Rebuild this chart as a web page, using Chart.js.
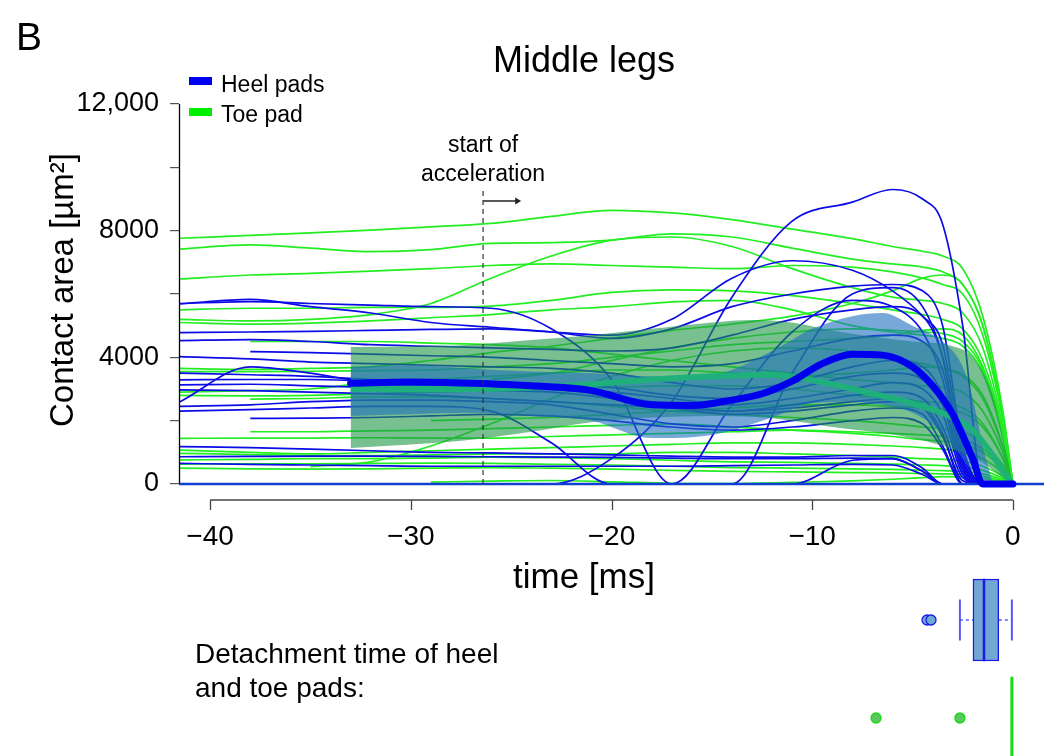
<!DOCTYPE html>
<html><head><meta charset="utf-8">
<script src="https://cdn.jsdelivr.net/npm/chart.js@4.4.1/dist/chart.umd.min.js"></script>
<style>html,body{margin:0;padding:0;background:#fff;}canvas{display:block;}</style>
</head><body>
<canvas id="c" width="1054" height="756"></canvas>
<script>
const FONT = "'Liberation Sans', Arial, Helvetica, sans-serif";

// ---------- data ----------
const panelLetter = 'B';
const chartTitle = 'Middle legs';
const legendLabels = ['Heel pads', 'Toe pad'];
const xTickValues = [-40, -30, -20, -10, 0];
const xTickLabels = ['\u221240', '\u221230', '\u221220', '\u221210', '0'];
const yTickMarks = [0, 2000, 4000, 6000, 8000, 10000, 12000];
const yTickValues = [0, 4000, 8000, 12000];
const yTickLabels = ['0', '4000', '8000', '12,000'];
const xAxisTitle = 'time [ms]';
const yAxisTitle = 'Contact area [\u00b5m\u00b2]';
const accelTime = -26.4;
const accelLabel = ['start of', 'acceleration'];
const detachLabel = ['Detachment time of heel', 'and toe pads:'];

// individual traces (ms, µm²)
const traceTimes = [-41.5, -38, -35, -32, -29, -26, -23, -20, -17, -14, -11, -8, -6, -4.5, -3.5, -2.5, -1.5, -0.5, 0];
const toeTraces = [
  [7760, 7850, 7930, 8020, 8120, 8230, 8450, 8640, 8560, 8350, 8050, 7750, 7500, 7350, 7200, 6800, 5300, 2300, 0],
  [7420, 7550, 7450, 7340, 7400, 7600, 7620, 7700, 7900, 7800, 7450, 7100, 6950, 6850, 6700, 6300, 5000, 2100, 0],
  [6475, 6600, 6650, 6720, 6800, 6900, 6950, 6900, 6850, 6800, 6900, 6850, 6700, 6500, 6300, 6000, 4700, 2000, 0],
  [5500, 5550, 5550, 5580, 5580, 5620, 5800, 6050, 6130, 6100, 5950, 5700, 5500, 5350, 5200, 4900, 3900, 1700, 0],
  [5200, 5150, 5200, 5350, 5700, 6500, 7200, 7700, 7800, 7500, 6800, 6200, 5900, 5800, 5700, 5400, 4300, 1800, 0],
  [5100, 5050, 5080, 5150, 5250, 5350, 5500, 5600, 5750, 5800, 5500, 5000, 4800, 4700, 4600, 4350, 3500, 1500, 0],
  [3650, 3620, 3650, 3700, 3900, 4150, 4350, 4600, 4850, 5050, 5300, 5700, 6100, 6500, 6600, 6300, 5000, 2100, 0],
  [3550, 3550, 3560, 3580, 3600, 3700, 3800, 4000, 4200, 4400, 4500, 4600, 4700, 4850, 4900, 4700, 3700, 1600, 0],
  [2900, 2950, 3000, 3200, 3300, 3400, 3500, 3600, 3600, 3500, 3400, 3500, 3600, 3700, 3650, 3450, 2800, 1200, 0],
  [2800, 2780, 2800, 2850, 2900, 2950, 3000, 3050, 3100, 3100, 3000, 2800, 2700, 2600, 2550, 2400, 1900, 800, 0],
  [null, 2680, 2700, 2750, 2750, 2700, 2600, 2450, 2300, 2200, 2100, 2000, 1900, 1800, 1750, 1650, 1300, 600, 0],
  [null, 1650, 1650, 1680, 1700, 1750, 1800, 1850, 1900, 1800, 1700, 1600, 1500, 1400, 1350, 1250, 1000, 450, 0],
  [1440, 1450, 1450, 1460, 1450, 1450, 1500, 1550, 1600, 1650, 1700, 1650, 1600, 1550, 1500, 1400, 1100, 500, 0],
  [1070, 1000, 950, 1000, 1050, 1100, 1150, 1200, 1250, 1300, 1300, 1250, 1200, 1150, 1100, 1000, 800, 350, 0],
  [970, 930, 900, 900, 920, 950, 950, 950, 1000, 1000, 950, 900, 850, 800, 780, 720, 560, 250, 0],
  [760, 780, 800, 800, 820, 850, 830, 800, 750, 700, 680, 650, 630, 600, 580, 540, 430, 180, 0],
  [630, 640, 640, 650, 660, 650, 620, 600, 560, 520, 500, 480, 460, 440, 420, 400, 320, 140, 0],
  [500, 480, 470, 480, 500, 520, 500, 470, 430, 400, 380, 360, 350, 330, 320, 300, 240, 100, 0],
  [null, null, 550, 700, 1200, 1900, 2700, 3400, 3900, 4200, 4300, 4200, 4000, 3800, 3650, 3400, 2700, 1150, 0],
  [null, null, null, null, 60, 90, 110, 70, 20, 10, 50, 100, 150, 200, 230, 220, 170, 70, 0],
  [null, null, null, null, 2000, 2050, 2100, 2200, 2300, 2400, 2500, 2500, 2450, 2400, 2350, 2250, 1800, 800, 0],
  [null, 4500, 4500, 4500, 4450, 4400, 4300, 4100, 3900, 3700, 3500, 3300, 3200, 3100, 3050, 2900, 2300, 1000, 0],
  [null, null, null, null, null, 3300, 3500, 3900, 4300, 4600, 4800, 4900, 4850, 4800, 4750, 4500, 3600, 1500, 0]
];
const heelTraces = [
  [5700, 5760, 5700, 5650, 5600, 5550, 4900, 3300, 0, 0, 0, 0, 0, 0, 0, 0, 0, 0, 0],
  [5690, 5830, 5600, 5400, 5100, 4950, 4800, 4600, 4900, 5600, 6000, 6250, 6300, 6100, 5000, 1200, 0, 0, 0],
  [4780, 4800, 4820, 4850, 4880, 4900, 4800, 4700, 5200, 6500, 7050, 6750, 6100, 5300, 4400, 1000, 0, 0, 0],
  [4530, 4560, 4500, 4400, 4350, 4300, 4250, 4200, 4300, 4700, 5200, 5500, 5600, 5300, 4000, 700, 0, 0, 0],
  [null, 4180, 4150, 4100, 4050, 4000, 3900, 3800, 3700, 3800, 4200, 4600, 4700, 4500, 3600, 800, 0, 0, 0],
  [4020, 3950, 3850, 3800, 3750, 3700, 3650, 3500, 3200, 3000, 3200, 3700, 3900, 3700, 2800, 500, 0, 0, 0],
  [2600, 3700, 3500, 3200, 3100, 3050, 3000, 2900, 2700, 2500, 2700, 3000, 3200, 3000, 2200, 300, 0, 0, 0],
  [3500, 3450, 3400, 3300, 3250, 3200, 3150, 3050, 2800, 2700, 3000, 3400, 3500, 3300, 2500, 400, 0, 0, 0],
  [3290, 3300, 3300, 3250, 3200, 3100, 3000, 2800, 2500, 2300, 2500, 2800, 2900, 2700, 1800, 200, 0, 0, 0],
  [3130, 3150, 3100, 3050, 3000, 2950, 2900, 2700, 2400, 2200, 2300, 2500, 2600, 2400, 1500, 100, 0, 0, 0],
  [2970, 2950, 2900, 2850, 2800, 2700, 2600, 2500, 2400, 2300, 2400, 2600, 2700, 2500, 1600, 0, 0, 0, 0],
  [2450, 2500, 2600, 2650, 2650, 2600, 2500, 2200, 1900, 1800, 2000, 2300, 2400, 2200, 1200, 0, 0, 0, 0],
  [2300, 2350, 2400, 2450, 2450, 2300, 1300, 0, 0, 0, 0, 0, 0, 0, 0, 0, 0, 0, 0],
  [null, 2070, 2080, 2100, 2150, 2200, 2150, 2000, 1800, 1700, 1800, 2000, 2100, 1900, 1100, 0, 0, 0, 0],
  [1180, 1150, 1100, 1050, 1000, 980, 950, 920, 880, 850, 850, 900, 900, 500, 0, 0, 0, 0, 0],
  [860, 870, 880, 880, 870, 860, 850, 840, 820, 800, 800, 820, 800, 400, 0, 0, 0, 0, 0],
  [650, 620, 600, 580, 560, 560, 560, 560, 560, 580, 600, 620, 600, 300, 0, 0, 0, 0, 0],
  [0, 0, 0, 0, 0, 0, 0, 800, 2600, 5900, 8300, 8900, 9300, 9000, 8200, 5000, 0, 0, 0],
  [0, 0, 0, 0, 0, 0, 0, 0, 0, 0, 3500, 6000, 6200, 5600, 4000, 800, 0, 0, 0],
  [0, 0, 0, 0, 0, 0, 0, 0, 0, 2500, 4800, 5800, 5600, 4800, 3300, 600, 0, 0, 0],
  [0, 0, 0, 0, 0, 0, 0, 0, 0, 0, 0, 750, 800, 400, 0, 0, 0, 0, 0]
];

// toe pad mean and SD band
const toeBandTimes = [-33, -30, -27, -24, -21, -18, -15, -13, -11, -9, -7, -5, -3, -2, -1, -0.5, 0];
const toeBandUpper = [4330, 4350, 4400, 4550, 4700, 4900, 5100, 5180, 5100, 4850, 4650, 4500, 4350, 4000, 2800, 1500, 0];
const toeBandLower = [1140, 1250, 1400, 1650, 1950, 2100, 2150, 2120, 2000, 1800, 1650, 1450, 1100, 850, 450, 200, 0];
const toeMeanTimes = [-33, -30, -27, -24, -21, -18, -15, -12, -9, -7, -5, -4, -3, -2, -1, -0.5, 0];
const toeMean = [3000, 3000, 3000, 3050, 3150, 3300, 3400, 3450, 3150, 2850, 2550, 2350, 2100, 1700, 900, 400, 0];

// heel pads mean and SD band
const heelBandTimes = [-33, -30, -27, -24, -21, -18, -15, -12, -10, -8, -6.5, -5, -3.5, -2.5, -2, -1.5, -1];
const heelBandUpper = [3700, 3750, 3650, 3550, 3500, 3400, 3450, 4200, 4900, 5300, 5400, 5000, 4500, 3700, 2700, 1200, 0];
const heelBandLower = [2150, 2200, 2250, 2150, 2000, 1450, 1550, 2100, 2550, 2600, 2500, 2250, 1600, 800, 400, 100, 0];
const heelMeanTimes = [-33, -30, -27, -24, -21, -18, -16, -14, -12.5, -11, -9.5, -8, -6.5, -5, -4, -3, -2, -1.5, -1, -0.5, 0];
const heelMean = [3180, 3220, 3180, 3100, 2950, 2500, 2480, 2650, 2850, 3250, 3800, 4100, 4070, 3700, 3100, 2200, 800, 0, 0, 0, 0];

// detachment times (ms): whisker low, Q1, median, Q3, whisker high
const heelBox = [-2.64, -1.99, -1.44, -0.70, -0.05];
const heelOutliers = [-4.28, -4.08];
const toeBox = [-0.05, -0.05, -0.05, -0.05, -0.05];
const toeOutliers = [-6.82, -2.64];

// ---------- layout / styles ----------
const X_MIN = -41.55, X_MAX = 1.55;
const Y_MIN = -8589.5, Y_MAX = 12000;          // area below 0 holds the x axis and the box plots
const YB_MIN = -4.2653, YB_MAX = 2.388;        // hidden row scale for the box plots
const BLUE = '#0c0ce6', GREEN = '#22ee22';
const HEEL_ROW = 1, TOE_ROW = 2, BOX_HALF = 0.42, CAP_HALF = 0.21;
const ACC_TOP = 9285, ARROW_Y = 8937, ARROW_LEN = 1.7;

const pts = (times, vals) => times.map((t, i) => vals[i] == null ? null : {x: t, y: vals[i]}).filter(p => p);
const datasets = [];

toeTraces.forEach(v => datasets.push({data: pts(traceTimes, v), borderColor: GREEN, borderWidth: 1.7, order: 11}));
heelTraces.forEach(v => datasets.push({data: pts(traceTimes, v), borderColor: BLUE, borderWidth: 1.7, order: 10}));
datasets.push({data: [{x: X_MIN, y: 0}, {x: X_MAX, y: 0}], borderColor: '#1040d0', borderWidth: 2.5, order: 9, cubicInterpolationMode: 'default'});

// bands
let idx = datasets.length;
datasets.push({data: pts(toeBandTimes, toeBandLower), borderWidth: 0, borderColor: 'rgba(0,0,0,0)', order: 8});
datasets.push({data: pts(toeBandTimes, toeBandUpper), borderWidth: 0, borderColor: 'rgba(0,0,0,0)', fill: {target: idx}, backgroundColor: 'rgba(30,150,70,0.6)', order: 7});
idx = datasets.length;
datasets.push({data: pts(heelBandTimes, heelBandLower), borderWidth: 0, borderColor: 'rgba(0,0,0,0)', order: 6});
datasets.push({data: pts(heelBandTimes, heelBandUpper), borderWidth: 0, borderColor: 'rgba(0,0,0,0)', fill: {target: idx}, backgroundColor: 'rgba(30,110,190,0.6)', order: 5});

// means
datasets.push({data: pts(toeMeanTimes, toeMean), borderColor: 'rgba(30,178,120,0.95)', borderWidth: 6, order: 4});
datasets.push({data: pts(heelMeanTimes, heelMean), borderColor: '#0000ee', borderWidth: 7, order: 3, borderCapStyle: 'round'});

// start of acceleration marker
datasets.push({data: [{x: accelTime, y: 0}, {x: accelTime, y: ACC_TOP}], borderColor: '#333', borderWidth: 1.2, borderDash: [5, 4], order: 2, cubicInterpolationMode: 'default'});
datasets.push({data: [{x: accelTime, y: ARROW_Y}, {x: accelTime + ARROW_LEN, y: ARROW_Y}], borderColor: '#222', borderWidth: 1.3, order: 2, cubicInterpolationMode: 'default',
  pointRadius: [0, 4], pointStyle: 'triangle', rotation: 90, pointBackgroundColor: '#222', pointBorderColor: '#222', pointBorderWidth: 0});

// box plots (horizontal, on the time axis): one bar dataset for both boxes
const boxStats = [heelBox, toeBox];
const boxRows = [HEEL_ROW, TOE_ROW];
datasets.push({type: 'bar', indexAxis: 'y', xAxisID: 'x', yAxisID: 'yb',
  data: boxStats.map((s, i) => ({x: [s[1], s[3]], y: boxRows[i]})),
  barThickness: 82, backgroundColor: ['#72a8d4', '#5ec65e'], borderColor: ['#1a1ae8', '#11dd11'], borderWidth: 1.5, borderSkipped: false, order: 1});

function addBoxParts(stats, outl, row, col, fill, edge, medW) {
  datasets.push({yAxisID: 'yb', data: [{x: stats[2], y: row - BOX_HALF}, {x: stats[2], y: row + BOX_HALF}], borderColor: edge, borderWidth: medW, order: 0, cubicInterpolationMode: 'default'});
  if (stats[0] < stats[1]) {
    datasets.push({yAxisID: 'yb', data: [{x: stats[0], y: row}, {x: stats[1], y: row}], borderColor: col, borderWidth: 1.5, borderDash: [3, 3], order: 1, cubicInterpolationMode: 'default'});
    datasets.push({yAxisID: 'yb', data: [{x: stats[3], y: row}, {x: stats[4], y: row}], borderColor: col, borderWidth: 1.5, borderDash: [3, 3], order: 1, cubicInterpolationMode: 'default'});
    datasets.push({yAxisID: 'yb', data: [{x: stats[0], y: row - CAP_HALF}, {x: stats[0], y: row + CAP_HALF}], borderColor: col, borderWidth: 2, order: 1, cubicInterpolationMode: 'default'});
    datasets.push({yAxisID: 'yb', data: [{x: stats[4], y: row - CAP_HALF}, {x: stats[4], y: row + CAP_HALF}], borderColor: col, borderWidth: 2, order: 1, cubicInterpolationMode: 'default'});
  }
  datasets.push({yAxisID: 'yb', data: outl.map(v => ({x: v, y: row})), showLine: false, pointRadius: 5, pointBackgroundColor: fill, pointBorderColor: edge, pointBorderWidth: 1.3, order: 0});
}
addBoxParts(heelBox, heelOutliers, HEEL_ROW, '#5a5af2', '#72a8d4', '#1a1ae8', 2.5);
addBoxParts(toeBox, toeOutliers, TOE_ROW, '#22dd22', '#5ec65e', '#11dd11', 3);

datasets.forEach(d => {
  if (d.type !== 'bar') {
    d.type = 'line';
    d.fill = d.fill || false;
    if (d.pointRadius === undefined) d.pointRadius = 0;
    if (!d.cubicInterpolationMode) d.cubicInterpolationMode = 'monotone';
  }
  d.clip = false;
});

const decor = {
  id: 'decor',
  beforeDraw(chart) {
    const c = chart.ctx; c.save(); c.fillStyle = '#fff'; c.fillRect(0, 0, chart.width, chart.height); c.restore();
  },
  afterDraw(chart) {
    const c = chart.ctx, xs = chart.scales.x, ys = chart.scales.y, a = chart.chartArea;
    c.save();
    // y axis line (0 .. 12,000 only)
    c.strokeStyle = '#000'; c.lineWidth = 1.3;
    c.beginPath();
    c.moveTo(a.left + 0.5, ys.getPixelForValue(yTickMarks[0]));
    c.lineTo(a.left + 0.5, ys.getPixelForValue(yTickMarks[yTickMarks.length - 1]));
    c.stroke();
    // x axis (offset below the data)
    const axY = ys.getPixelForValue(0) + 16;
    c.strokeStyle = '#444'; c.lineWidth = 1.3;
    c.beginPath();
    c.moveTo(xs.getPixelForValue(xTickValues[0]), axY);
    c.lineTo(xs.getPixelForValue(xTickValues[xTickValues.length - 1]), axY);
    c.stroke();
    xTickValues.forEach(v => {
      const px = Math.round(xs.getPixelForValue(v)) + 0.5;
      c.beginPath(); c.moveTo(px, axY); c.lineTo(px, axY + 10); c.stroke();
    });
    c.fillStyle = '#000';
    c.textAlign = 'center'; c.textBaseline = 'alphabetic';
    c.font = `28px ${FONT}`;
    xTickValues.forEach((v, i) => c.fillText(xTickLabels[i], xs.getPixelForValue(v), axY + 45));
    c.font = `35px ${FONT}`;
    c.fillText(xAxisTitle, 584, 588);
    // y title
    c.save(); c.translate(73, 290); c.rotate(-Math.PI / 2);
    c.font = `33px ${FONT}`; c.fillText(yAxisTitle, 0, 0); c.restore();
    // title + panel letter
    c.font = `36px ${FONT}`; c.fillText(chartTitle, 584, 72);
    c.textAlign = 'left'; c.font = `39px ${FONT}`; c.fillText(panelLetter, 16, 50);
    // legend
    c.fillStyle = '#0000ee'; c.fillRect(189, 77, 23, 8);
    c.fillStyle = '#00ee00'; c.fillRect(189, 108, 23, 8);
    c.fillStyle = '#000'; c.font = `23px ${FONT}`;
    c.fillText(legendLabels[0], 221, 92);
    c.fillText(legendLabels[1], 221, 122);
    // start of acceleration
    c.textAlign = 'center';
    const ax = xs.getPixelForValue(accelTime);
    c.fillText(accelLabel[0], ax, 152);
    c.fillText(accelLabel[1], ax, 181);
    // detachment label
    c.textAlign = 'left'; c.font = `28px ${FONT}`;
    c.fillText(detachLabel[0], 195, 663);
    c.fillText(detachLabel[1], 195, 697);
    c.restore();
  }
};

new Chart(document.getElementById('c'), {
  type: 'line',
  data: {datasets},
  options: {
    responsive: false, animation: false, devicePixelRatio: 1,
    layout: {autoPadding: false, padding: {left: 0, right: 10, top: 104, bottom: 0}},
    plugins: {legend: {display: false}, tooltip: {enabled: false}, title: {display: false}},
    elements: {point: {radius: 0}, line: {borderWidth: 1.5}},
    scales: {
      x: {type: 'linear', min: X_MIN, max: X_MAX, display: false},
      y: {
        type: 'linear', position: 'left', min: Y_MIN, max: Y_MAX, bounds: 'data',
        afterBuildTicks: s => { s.ticks = yTickMarks.map(v => ({value: v})); },
        afterFit: s => { s.width = 179; s.paddingTop = 0; s.paddingBottom = 0; },
        ticks: {autoSkip: false, color: '#000', padding: 11, font: {family: FONT, size: 27},
          callback: v => { const i = yTickValues.indexOf(v); return i >= 0 ? yTickLabels[i] : ''; }},
        grid: {drawOnChartArea: false, drawTicks: true, tickLength: 9, color: '#555', lineWidth: 1.2},
        border: {display: false}
      },
      yb: {type: 'linear', display: false, min: YB_MIN, max: YB_MAX, reverse: true, offset: false, grid: {offset: false}}
    }
  },
  plugins: [decor]
});
</script>
</body></html>
